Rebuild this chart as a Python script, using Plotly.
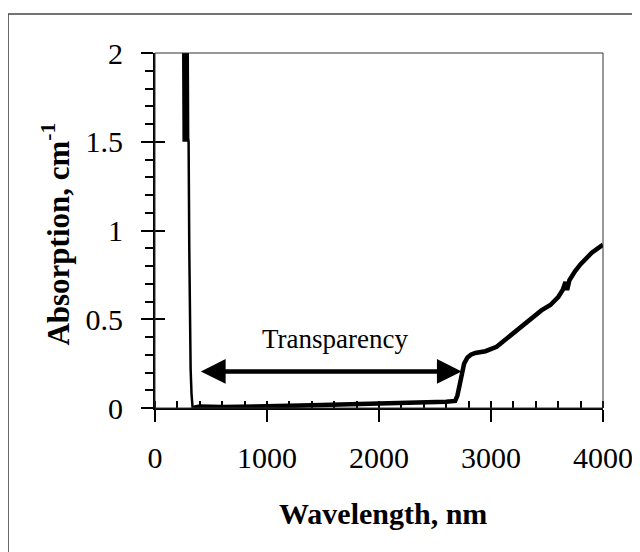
import plotly.graph_objects as go

# UV absorption edge (noisy saturated region then drop)
wl_uv = [252, 256, 260, 264, 268, 272, 276, 280, 284, 288, 292, 296, 300, 306, 312, 318, 326, 336]
abs_uv = [2.05, 1.5, 2.05, 1.52, 2.05, 1.5, 2.05, 1.55, 2.05, 1.5, 2.05, 1.52, 1.5, 0.9, 0.4, 0.22, 0.08, 0.0]

# Transparent window and IR absorption
wl_ir = [336, 400, 600, 800, 1000, 1200, 1400, 1600, 1800, 2000, 2200, 2400, 2600, 2680,
         2700, 2720, 2740, 2760, 2790, 2820, 2860, 2950, 3050, 3150, 3250, 3350, 3450,
         3530, 3600, 3640, 3665, 3680, 3700, 3750, 3800, 3900, 4000]
abs_ir = [0.0, 0.008, 0.006, 0.01, 0.01, 0.012, 0.015, 0.018, 0.02, 0.022, 0.025, 0.03, 0.035, 0.04,
          0.07, 0.13, 0.2, 0.25, 0.285, 0.3, 0.31, 0.32, 0.345, 0.395, 0.45, 0.5, 0.55,
          0.58, 0.625, 0.665, 0.71, 0.665, 0.72, 0.77, 0.81, 0.875, 0.92]

x_ticks = [0, 1000, 2000, 3000, 4000]
y_ticks = [0, 0.5, 1, 1.5, 2]

arrow_from, arrow_to, arrow_y = 396, 2738, 0.206
label_text, label_x, label_y = "Transparency", 1607, 0.386

FONT = "Liberation Serif, Times New Roman, serif"

fig = go.Figure()
fig.add_trace(go.Scatter(x=wl_uv, y=abs_uv, mode="lines",
                         line=dict(color="black", width=2.5), showlegend=False))
fig.add_trace(go.Scatter(x=wl_ir, y=abs_ir, mode="lines",
                         line=dict(color="black", width=4.5, shape="linear"), showlegend=False))
# invisible trace on overlaid axes (for crossing major ticks)
fig.add_trace(go.Scatter(x=[0], y=[0], xaxis="x2", yaxis="y2", mode="markers",
                         marker=dict(opacity=0), showlegend=False, hoverinfo="skip"))

fig.update_layout(
    width=640, height=552,
    margin=dict(l=147, r=45, t=45, b=152),
    paper_bgcolor="white", plot_bgcolor="white",
    font=dict(family=FONT, color="black"),
    xaxis=dict(range=[0, 4000], tickvals=x_ticks, ticks="outside", ticklen=12, tickwidth=2,
               tickcolor="black", showline=True, linewidth=2, linecolor="black",
               showgrid=False, zeroline=False, tickfont=dict(size=30, family=FONT),
               ticklabelstandoff=10,
               minor=dict(dtick=200, ticks="inside", ticklen=7, tickwidth=1.5, tickcolor="black")),
    yaxis=dict(range=[0, 2], tickvals=y_ticks, ticks="outside", ticklen=12, tickwidth=2,
               tickcolor="black", showline=True, linewidth=2, linecolor="black",
               showgrid=False, zeroline=False, tickfont=dict(size=30, family=FONT),
               ticklabelstandoff=12,
               minor=dict(dtick=0.1, ticks="outside", ticklen=8, tickwidth=1.5, tickcolor="black")),
    xaxis2=dict(range=[0, 4000], overlaying="x", anchor="y", tickvals=x_ticks, ticks="inside",
                ticklen=7, tickwidth=2, tickcolor="black", showticklabels=False,
                showgrid=False, zeroline=False, showline=False),
    yaxis2=dict(range=[0, 2], overlaying="y", anchor="x", tickvals=y_ticks, ticks="inside",
                ticklen=10, tickwidth=2, tickcolor="black", showticklabels=False,
                showgrid=False, zeroline=False, showline=False),
)

# plot-area box (top/right thin lines)
fig.add_shape(type="rect", xref="paper", yref="paper", x0=0, x1=1, y0=0, y1=1,
              line=dict(color="#333", width=1))
# outer figure frame (left and top edges visible)
fig.add_shape(type="line", xref="paper", yref="paper", x0=-0.328, x1=1.2, y0=1.11, y1=1.11,
              line=dict(color="#444", width=1.5))
fig.add_shape(type="line", xref="paper", yref="paper", x0=-0.328, x1=-0.328, y0=1.11, y1=-0.6,
              line=dict(color="#444", width=1.5))

# double-headed arrow
fig.add_annotation(x=arrow_to, y=arrow_y, ax=arrow_from, ay=arrow_y, xref="x", yref="y",
                   axref="x", ayref="y", text="", showarrow=True, arrowside="end+start",
                   arrowhead=2, arrowsize=1.1, arrowwidth=4.5, arrowcolor="black",
                   standoff=0, startstandoff=0)
fig.add_annotation(x=label_x, y=label_y, xref="x", yref="y", text=label_text, showarrow=False,
                   font=dict(size=27, family=FONT, color="black"))

# axis titles
fig.add_annotation(x=0.509, y=-0.296, xref="paper", yref="paper", text="<b>Wavelength, nm</b>",
                   showarrow=False, xanchor="center", yanchor="middle",
                   font=dict(size=30, family=FONT, color="black"))
fig.add_annotation(x=-0.222, y=0.49, xref="paper", yref="paper",
                   text="<b>Absorption, cm<sup>-1</sup></b>", textangle=-90,
                   showarrow=False, xanchor="center", yanchor="middle",
                   font=dict(size=31, family=FONT, color="black"))

fig.write_html("out.html")
